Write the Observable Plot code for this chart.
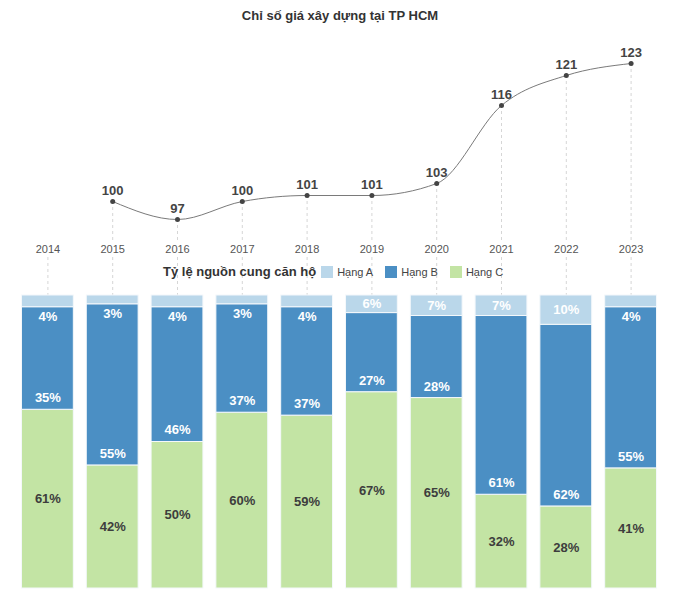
<!DOCTYPE html>
<html><head><meta charset="utf-8">
<script src="https://cdn.jsdelivr.net/npm/d3@7"></script>
<script src="https://cdn.jsdelivr.net/npm/@observablehq/plot@0.6"></script>
<style>
body{margin:0;background:#fff;font-family:"Liberation Sans",Arial,sans-serif;}
#wrap{position:relative;width:680px;height:615px;overflow:hidden;background:#fff;}
#title{position:absolute;top:8px;left:0;width:680px;text-align:center;font-weight:bold;font-size:13px;line-height:15px;color:#333;}
#top{position:absolute;top:30px;left:0;}
#bars{position:absolute;top:255px;left:0;}
#legend{position:absolute;top:265px;left:163px;display:flex;align-items:center;font-size:11px;line-height:14px;color:#444;white-space:nowrap;}
</style></head><body>
<div id="wrap"><div id="title"></div><div id="bars"></div><div id="top"></div><div id="legend"></div></div>
<script>
const chartTitle = "Chỉ số giá xây dựng tại TP HCM";
const legendTitle = "Tỷ lệ nguồn cung căn hộ";
const years = ["2014","2015","2016","2017","2018","2019","2020","2021","2022","2023"];
const indexYears = ["2015","2016","2017","2018","2019","2020","2021","2022","2023"];
const indexValues = [100,97,100,101,101,103,116,121,123];
const categories = ["Hạng A","Hạng B","Hạng C"];
const colors = ["#bad7ea","#4b8fc4","#c3e4a4"];
const hangA = [4,3,4,3,4,6,7,7,10,4];
const hangB = [35,55,46,37,37,27,28,61,62,55];
const hangC = [61,42,50,60,59,67,65,32,28,41];

const font = '"Liberation Sans", Arial, sans-serif';
document.getElementById("title").textContent = chartTitle;

const lineData = indexYears.map((y,i)=>({year:y, value:indexValues[i]}));
const yMin = 93;
const topPlot = Plot.plot({
  width:680, height:235, marginTop:3, marginBottom:22, marginLeft:15, marginRight:17,
  style:{background:"transparent", fontFamily:font, fontSize:"11px", color:"#555", overflow:"visible"},
  x:{type:"point", domain:years, padding:0.5, round:false, label:null, tickSize:0, tickPadding:2},
  y:{domain:[yMin,128], axis:null},
  marks:[
    Plot.ruleX(lineData,{x:"year", y1:"value", y2:yMin, stroke:"#d6d6d6", strokeDasharray:"3,3"}),
    Plot.line(lineData,{x:"year", y:"value", curve:"monotone-x", stroke:"#7a7a7a", strokeWidth:1}),
    Plot.dot(lineData,{x:"year", y:"value", r:2.5, fill:"#444"}),
    Plot.text(lineData,{x:"year", y:"value", text:d=>String(d.value), dy:-11, fontSize:13, fontWeight:"bold", fill:"#444"})
  ]
});
document.getElementById("top").appendChild(topPlot);

const barData = [];
years.forEach((y,i)=>{
  barData.push({year:y, cat:categories[2], value:hangC[i]});
  barData.push({year:y, cat:categories[1], value:hangB[i]});
  barData.push({year:y, cat:categories[0], value:hangA[i]});
});
const whiteLabels = [], darkLabels = [];
years.forEach((y,i)=>{
  const a=hangA[i], b=hangB[i], c=hangC[i];
  darkLabels.push({year:y, pos:c/2, text:c+"%"});
  whiteLabels.push({year:y, pos:c+4, text:b+"%"});
  whiteLabels.push({year:y, pos:a>=5 ? 100-a/2 : 100-a-3.2, text:a+"%"});
});

const barPlot = Plot.plot({
  width:680, height:360, marginTop:40, marginBottom:27, marginLeft:15, marginRight:17,
  style:{background:"transparent", fontFamily:font, overflow:"visible"},
  x:{type:"band", domain:years, paddingInner:0.2, paddingOuter:0.1, round:false, axis:null},
  y:{domain:[0,100], axis:null},
  color:{domain:categories, range:colors},
  marks:[
    Plot.ruleX(years,{x:d=>d, insetTop:-38, stroke:"#d6d6d6", strokeDasharray:"3,3"}),
    Plot.barY(barData,{x:"year", y:"value", fill:"cat", z:"cat", stroke:"#f4f8fb", strokeWidth:1}),
    Plot.text(whiteLabels,{x:"year", y:"pos", text:"text", fill:"#fff", fontSize:13, fontWeight:"bold"}),
    Plot.text(darkLabels,{x:"year", y:"pos", text:"text", fill:"#3d3d3d", fontSize:13, fontWeight:"bold"})
  ]
});
document.getElementById("bars").appendChild(barPlot);

const leg = document.getElementById("legend");
const t = document.createElement("span");
t.textContent = legendTitle;
t.style.cssText = "font-weight:bold;font-size:13px;color:#333;margin-right:5px";
leg.appendChild(t);
categories.forEach((c,i)=>{
  const sw = document.createElement("span");
  sw.style.cssText = `display:inline-block;width:12px;height:12px;background:${colors[i]};margin-right:4px`;
  const lb = document.createElement("span");
  lb.textContent = c;
  lb.style.cssText = "margin-right:12px";
  leg.appendChild(sw); leg.appendChild(lb);
});
</script></body></html>
